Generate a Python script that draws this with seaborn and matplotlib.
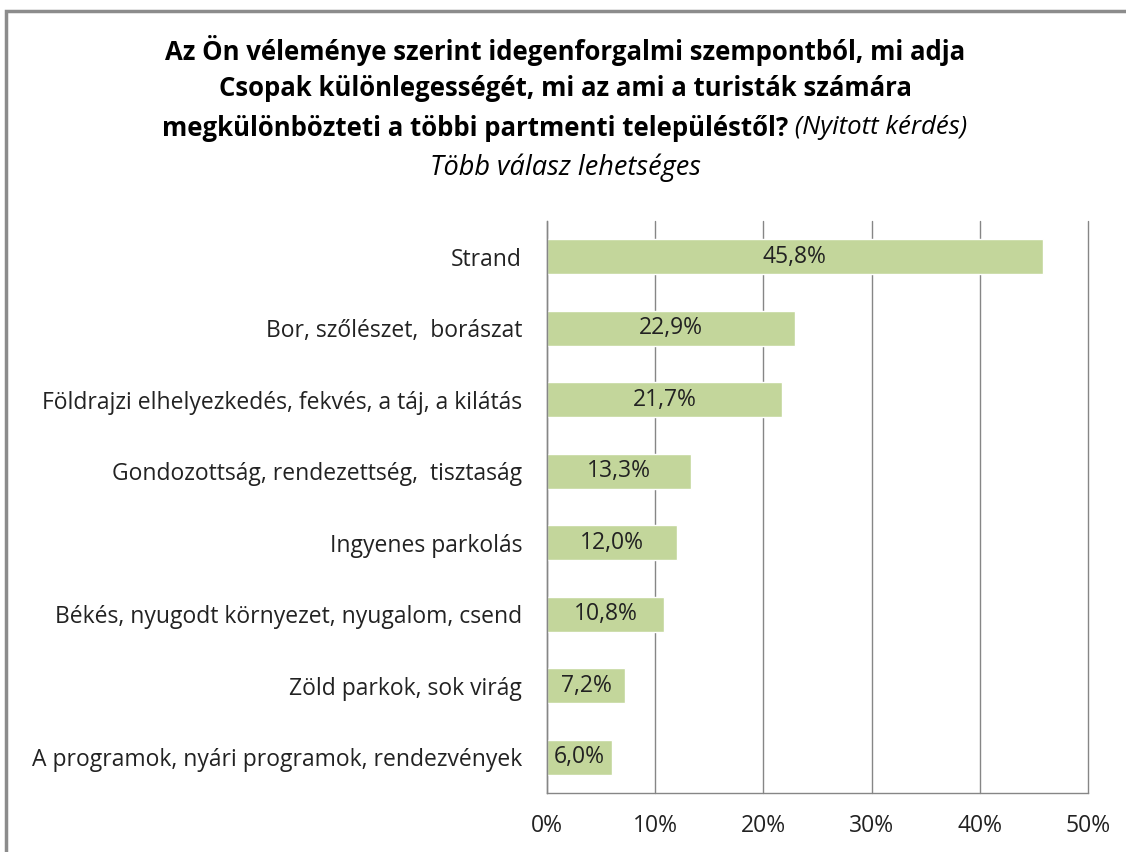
import matplotlib
matplotlib.use("Agg")
import pandas as pd
import seaborn as sns
from matplotlib import pyplot as plt
from matplotlib import ticker
from matplotlib.patches import Rectangle

categories = [
    "Strand",
    "Bor, szőlészet,  borászat",
    "Földrajzi elhelyezkedés, fekvés, a táj, a kilátás",
    "Gondozottság, rendezettség,  tisztaság",
    "Ingyenes parkolás",
    "Békés, nyugodt környezet, nyugalom, csend",
    "Zöld parkok, sok virág",
    "A programok, nyári programok, rendezvények",
]
values = [45.8, 22.9, 21.7, 13.3, 12.0, 10.8, 7.2, 6.0]
x_ticks = [0, 10, 20, 30, 40, 50]

title_bold = [
    "Az Ön véleménye szerint idegenforgalmi szempontból, mi adja",
    "Csopak különlegességét, mi az ami a turisták számára",
    "megkülönbözteti a többi partmenti településtől?",
]
title_italic_tail = " (Nyitott kérdés)"
subtitle = "Több válasz lehetséges"

sns.set_theme(style="white")
plt.rcParams["font.family"] = ["Open Sans", "DejaVu Sans"]

df = pd.DataFrame({"cat": categories, "val": values})

fig = plt.figure(figsize=(11.26, 8.52), dpi=100)
ax = fig.add_axes([547 / 1126, 1 - 793 / 852, (1088 - 547) / 1126, (793 - 221) / 852])

sns.barplot(data=df, x="val", y="cat", orient="h", color="#C3D69B",
            saturation=1, width=0.49, ax=ax)

ax.set_xlim(0, 50)
ax.set_ylim(len(categories) - 0.5, -0.5)
ax.set_xticks(x_ticks)
ax.xaxis.set_major_formatter(ticker.FuncFormatter(lambda v, p: f"{v:g}%"))
ax.set_xlabel("")
ax.set_ylabel("")

ax.grid(axis="x", color="#868686", linewidth=1)
for gl in ax.get_xgridlines():
    gl.set_clip_on(False)
ax.set_axisbelow(True)
for side in ["top", "right"]:
    ax.spines[side].set_visible(False)
for side in ["left", "bottom"]:
    ax.spines[side].set_color("#868686")
    ax.spines[side].set_linewidth(1)

ax.tick_params(axis="x", length=7, color="#868686", width=1, direction="out",
               labelsize=16.5, labelcolor="#222222", pad=8)
ax.tick_params(axis="y", which="major", length=0, labelsize=16.5,
               labelcolor="#222222", pad=18)
ax.set_yticks([i + 0.5 for i in range(-1, len(categories))], minor=True)
ax.tick_params(axis="y", which="minor", length=7, color="#868686", width=1)

for i, v in enumerate(values):
    ax.text(v / 2, i, f"{v:.1f}%".replace(".", ","), ha="center", va="center",
            fontsize=16.5, color="#222222")

# Title with mixed bold / italic parts
fig.canvas.draw()
renderer = fig.canvas.get_renderer()
cx = 565 / 1126
ys = [50, 88, 128, 168]
tsize = 18.5
for line, y in zip(title_bold[:2], ys[:2]):
    fig.text(cx, 1 - y / 852, line, ha="center", va="center",
             fontsize=tsize, fontweight="bold", color="black")

t1 = fig.text(0, 1 - ys[2] / 852, title_bold[2], ha="left", va="center",
              fontsize=tsize, fontweight="bold", color="black")
t2 = fig.text(0, 1 - ys[2] / 852, title_italic_tail, ha="left", va="center",
              fontsize=tsize, fontstyle="italic", color="black")
w1 = t1.get_window_extent(renderer).width
w2 = t2.get_window_extent(renderer).width
x0 = cx * 1126 - (w1 + w2) / 2
t1.set_x(x0 / 1126)
t2.set_x((x0 + w1) / 1126)

fig.text(cx, 1 - ys[3] / 852, subtitle, ha="center", va="center",
         fontsize=19.5, fontstyle="italic", color="black")

# chart-area border (cut by the image edge on the right and bottom)
fig.patches.append(Rectangle((6 / 1126, -0.05), 1.2, 1 - 11 / 852 + 0.05,
                             transform=fig.transFigure, fill=False,
                             edgecolor="#8c8c8c", linewidth=2.5))

fig.savefig("out.png", dpi=100)
